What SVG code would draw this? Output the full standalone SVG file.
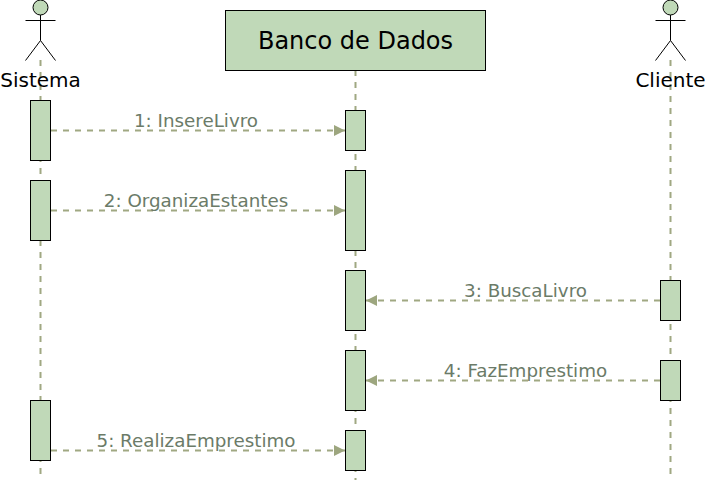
<svg xmlns="http://www.w3.org/2000/svg" width="705" height="483" viewBox="0 0 705 483">
<style>
.ll{fill:none;stroke:#a0a882;stroke-width:2;stroke-dasharray:6 6}
.m{fill:none;stroke:#a0a882;stroke-width:2;stroke-dasharray:6 6}
.box{fill:#c0d9b8;stroke:#000;stroke-width:1}
.stick{fill:none;stroke:#000;stroke-width:1}
.lbl{font-family:"DejaVu Sans",Verdana,sans-serif;font-size:18.3px;fill:#6b7b68;text-anchor:middle}
.act{font-family:"DejaVu Sans",Verdana,sans-serif;font-size:20px;fill:#000;text-anchor:middle}
.title{font-family:"DejaVu Sans",Verdana,sans-serif;font-size:24px;fill:#000;text-anchor:middle}
</style>
<defs>
<marker id="ah" markerUnits="userSpaceOnUse" markerWidth="12" markerHeight="12" refX="11" refY="6" orient="auto"><path d="M0 0.500L11 6L0 11.500Z" fill="#9da67f"/></marker>
</defs>
<g id="lifelines">
<path class="ll" d="M40.5 60V475"/>
<path class="ll" d="M355.5 70V480"/>
<path class="ll" d="M670.5 60V475"/>
</g>
<g id="actor-sistema">
<circle class="box" cx="40.500" cy="7.500" r="7.500"/>
<path class="stick" d="M40.500 15V40.500M25.500 20.500H55.500M40.500 40.500L25.500 60.500M40.500 40.500L55.500 60.500"/>
<text class="act" x="40.500" y="87">Sistema</text>
</g>
<g id="node-banco">
<rect class="box" x="225.500" y="10.500" width="260" height="60"/>
<text class="title" x="355.500" y="49">Banco de Dados</text>
</g>
<g id="actor-cliente">
<circle class="box" cx="670.500" cy="7.500" r="7.500"/>
<path class="stick" d="M670.500 15V40.500M655.500 20.500H685.500M670.500 40.500L655.500 60.500M670.500 40.500L685.500 60.500"/>
<text class="act" x="670.500" y="87">Cliente</text>
</g>
<g id="activations">
<rect class="box" x="30.500" y="100.500" width="20" height="60"/>
<rect class="box" x="30.500" y="180.500" width="20" height="60"/>
<rect class="box" x="30.500" y="400.500" width="20" height="60"/>
<rect class="box" x="345.500" y="110.500" width="20" height="40"/>
<rect class="box" x="345.500" y="170.500" width="20" height="80"/>
<rect class="box" x="345.500" y="270.500" width="20" height="60"/>
<rect class="box" x="345.500" y="350.500" width="20" height="60"/>
<rect class="box" x="345.500" y="430.500" width="20" height="40"/>
<rect class="box" x="660.500" y="280.500" width="20" height="40"/>
<rect class="box" x="660.500" y="360.500" width="20" height="40"/>
</g>
<g id="connectors">
<path class="m" d="M51 130.500H345" marker-end="url(#ah)"/>
<path class="m" d="M51 210.500H345" marker-end="url(#ah)"/>
<path class="m" d="M660 300.500H366" marker-end="url(#ah)"/>
<path class="m" d="M660 380.500H366" marker-end="url(#ah)"/>
<path class="m" d="M51 450.500H345" marker-end="url(#ah)"/>
</g>
<g id="labels">
<text class="lbl" x="196" y="127">1: InsereLivro</text>
<text class="lbl" x="196" y="207">2: OrganizaEstantes</text>
<text class="lbl" x="525.500" y="297">3: BuscaLivro</text>
<text class="lbl" x="525.500" y="377">4: FazEmprestimo</text>
<text class="lbl" x="196" y="447">5: RealizaEmprestimo</text>
</g>
</svg>
